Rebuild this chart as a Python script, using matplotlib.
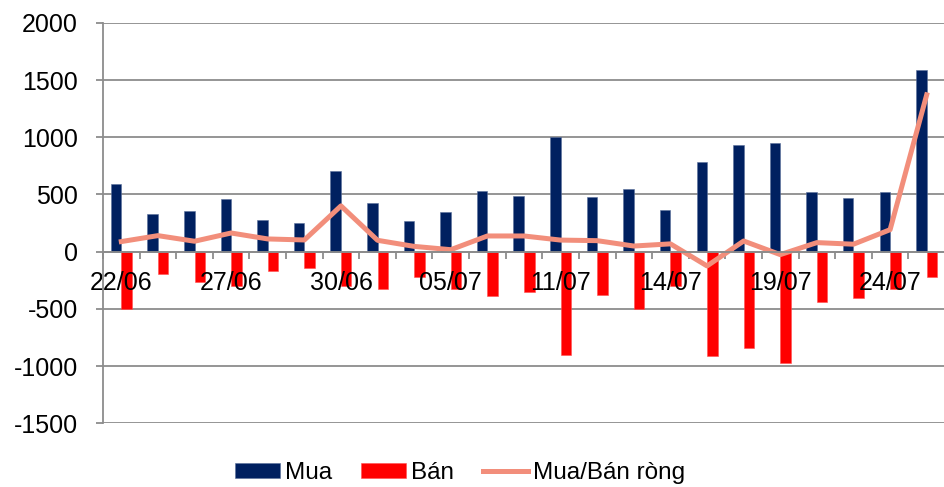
import matplotlib
matplotlib.use("Agg")
import matplotlib.pyplot as plt
import numpy as np

# du lieu doc tu bieu do
ngay = ['22/06', '23/06', '24/06', '27/06', '28/06', '29/06', '30/06', '01/07',
        '04/07', '05/07', '06/07', '07/07', '11/07', '12/07', '13/07', '14/07',
        '15/07', '18/07', '19/07', '20/07', '21/07', '24/07', '25/07']
mua = [590, 332, 359, 464, 277, 248, 703, 426, 271, 347, 528, 490, 1005, 475,
       551, 365, 785, 936, 948, 522, 470, 519, 1592]
ban = [-502, -192, -268, -301, -166, -146, -303, -327, -225, -330, -391, -353,
       -904, -379, -502, -297, -910, -843, -974, -443, -405, -327, -221]
rong = [88, 140, 91, 163, 111, 102, 400, 99, 46, 17, 137, 137, 101, 96, 49, 68,
        -125, 93, -26, 79, 65, 192, 1371]

plt.rcParams['font.family'] = ['Liberation Sans', 'DejaVu Sans']
plt.rcParams['axes.unicode_minus'] = False

fig = plt.figure(figsize=(9.45, 4.87), dpi=100)
ax = fig.add_axes([0.109, 0.131, 0.891, 0.822])

x = np.arange(len(ngay))
w = 0.287

for y in range(-1500, 2001, 500):
    ax.axhline(y, color='#8c8c8c', lw=1.3, zorder=0.5)

b1 = ax.bar(x - w / 2, mua, w, color='#002060', edgecolor='#5a6f9a', lw=0.4, label='Mua', zorder=1)
b2 = ax.bar(x + w / 2, ban, w, color='#ff0000', edgecolor='#ff5050', lw=0.4, label='Bán', zorder=1)
l1, = ax.plot(x, rong, color='#f28e7b', lw=3.6, solid_joinstyle='round', label='Mua/Bán ròng', zorder=2)

ax.set_xlim(-0.5, len(ngay) - 0.5)
ax.set_ylim(-1500, 2000)
ax.set_yticks(range(-1500, 2001, 500))

ax.spines['top'].set_visible(False)
ax.spines['right'].set_visible(False)
ax.spines['left'].set_color('#8c8c8c')
ax.spines['left'].set_linewidth(1.3)
ax.spines['bottom'].set_position(('data', 0))
ax.spines['bottom'].set_color('#8c8c8c')
ax.spines['bottom'].set_linewidth(1.3)

ax.set_xticks(x[::3])
ax.set_xticklabels(ngay[::3])
ax.set_xticks(np.arange(-0.5, len(ngay)), minor=True)
ax.tick_params(axis='x', which='major', length=0, pad=14, labelsize=18)
ax.tick_params(axis='x', which='minor', length=5, width=1.3, color='#8c8c8c', direction='out')
ax.tick_params(axis='y', length=5, width=1.3, color='#8c8c8c', pad=13, labelsize=18)

fig.legend([b1, b2, l1], ['Mua', 'Bán', 'Mua/Bán ròng'],
           loc='center', bbox_to_anchor=(0.487, 0.029), ncol=3, frameon=False,
           fontsize=17.5, handlelength=1.85, handleheight=0.55, handletextpad=0.2,
           columnspacing=1.2)

fig.savefig('out.png', dpi=100)
